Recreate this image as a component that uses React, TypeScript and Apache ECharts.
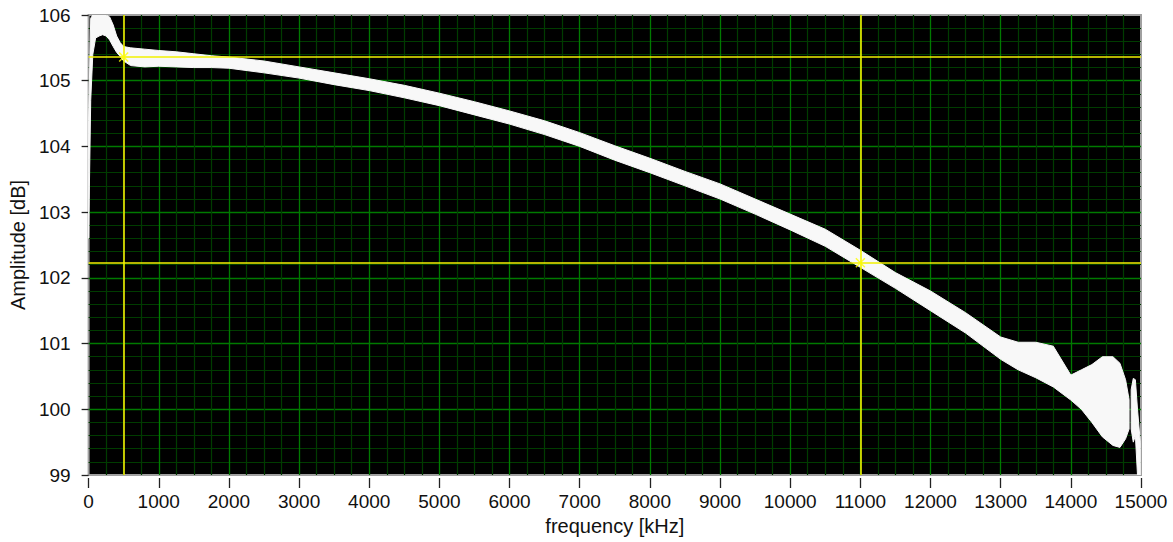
import React, { useEffect, useRef } from "react";
import * as echarts from "echarts";

// Tick values
const xTicks = [0, 1000, 2000, 3000, 4000, 5000, 6000, 7000, 8000, 9000, 10000, 11000, 12000, 13000, 14000, 15000];
const yTicks = [99, 100, 101, 102, 103, 104, 105, 106];

// Main noisy band (envelope of the measured spectrum), frequency in kHz
const bandFreq = [0, 30, 60, 100, 150, 200, 250, 300, 350, 400, 450, 500, 600, 800, 1000, 1250, 1500, 1750, 2000, 2500, 3000, 3500, 4000, 4500, 5000, 5500, 6000, 6500, 7000, 7500, 8000, 8500, 9000, 9500, 10000, 10500, 11000, 11500, 12000, 12500, 13000, 13250, 13500, 13750, 14000, 14150, 14300, 14450, 14600, 14700, 14780, 14830];
const bandLower = [102.6, 104.7, 105.4, 105.65, 105.68, 105.7, 105.68, 105.62, 105.52, 105.43, 105.37, 105.3, 105.23, 105.21, 105.22, 105.21, 105.2, 105.2, 105.19, 105.12, 105.04, 104.94, 104.85, 104.74, 104.62, 104.48, 104.34, 104.18, 104.0, 103.79, 103.6, 103.4, 103.2, 102.97, 102.73, 102.48, 102.16, 101.84, 101.5, 101.16, 100.76, 100.6, 100.48, 100.34, 100.14, 100.0, 99.8, 99.58, 99.45, 99.42, 99.55, 99.7];
const bandUpper = [104.4, 105.95, 106.0, 106.0, 106.0, 106.0, 106.0, 105.97, 105.85, 105.68, 105.58, 105.52, 105.5, 105.48, 105.46, 105.44, 105.41, 105.38, 105.36, 105.3, 105.21, 105.12, 105.03, 104.93, 104.81, 104.68, 104.54, 104.39, 104.21, 104.01, 103.82, 103.62, 103.43, 103.2, 102.97, 102.74, 102.42, 102.08, 101.8, 101.47, 101.1, 101.02, 101.02, 100.96, 100.52, 100.6, 100.68, 100.8, 100.8, 100.7, 100.45, 100.15];

// Last spikes near the end of the range
const tailFreq = [14860, 14890, 14920, 14950, 14990];
const tailLower = [99.7, 99.5, 99.6, 99.0, 99.0];
const tailUpper = [100.3, 100.47, 100.45, 100.0, 99.5];

// Cursors
const cursorX = [500, 11000];
const cursorY = [105.36, 102.23];

const FONT = "'Liberation Sans', Arial, sans-serif";

export default function App() {
  const ref = useRef<HTMLDivElement>(null);

  useEffect(() => {
    if (!ref.current) return;
    const chart = echarts.init(ref.current, undefined, { renderer: "svg" });

    const bandPoints = (api: any, fs: number[], lo: number[], hi: number[]) => {
      const pts: number[][] = [];
      for (let i = 0; i < fs.length; i++) pts.push(api.coord([fs[i], hi[i]]));
      for (let i = fs.length - 1; i >= 0; i--) pts.push(api.coord([fs[i], lo[i]]));
      return pts;
    };

    const option: any = {
      animation: false,
      backgroundColor: "#ffffff",
      grid: {
        left: 88,
        right: 32,
        top: 15,
        bottom: 67,
        show: true,
        backgroundColor: "#000000",
        borderColor: "#a0a0a0",
        borderWidth: 2,
      },
      xAxis: {
        type: "value",
        min: 0,
        max: 15000,
        interval: 1000,
        offset: 3,
        name: "frequency [kHz]",
        nameLocation: "middle",
        nameGap: 38,
        nameTextStyle: { fontSize: 20, fontFamily: FONT, color: "#111" },
        axisLine: { show: false },
        axisTick: { show: true, length: 10, lineStyle: { color: "#222", width: 1.3 } },
        axisLabel: {
          margin: 14,
          fontSize: 19,
          fontFamily: FONT,
          color: "#111",
          formatter: (v: number) => (xTicks.includes(v) ? String(v) : ""),
        },
        splitLine: { show: true, showMinLine: false, showMaxLine: false, lineStyle: { color: "#007a00", width: 1.3 } },
        minorTick: { show: true, splitNumber: 4, length: 0, lineStyle: { width: 0 } },
        minorSplitLine: { show: true, lineStyle: { color: "#003c00", width: 1.2 } },
      },
      yAxis: {
        type: "value",
        min: 99,
        max: 106,
        interval: 1,
        offset: 6,
        name: "Amplitude [dB]",
        nameLocation: "middle",
        nameGap: 52,
        nameTextStyle: { fontSize: 20, fontFamily: FONT, color: "#111" },
        axisLine: { show: false },
        axisTick: { show: true, length: 7, lineStyle: { color: "#222", width: 1.3 } },
        axisLabel: {
          margin: 12,
          fontSize: 19,
          fontFamily: FONT,
          color: "#111",
          formatter: (v: number) => (yTicks.includes(v) ? String(v) : ""),
        },
        splitLine: { show: true, showMinLine: false, showMaxLine: false, lineStyle: { color: "#007a00", width: 1.3 } },
        minorTick: { show: true, splitNumber: 5, length: 0, lineStyle: { width: 0 } },
        minorSplitLine: { show: true, lineStyle: { color: "#003c00", width: 1.2 } },
      },
      series: [
        {
          type: "custom",
          silent: true,
          clip: true,
          data: [[0, 100]],
          renderItem: (_params: any, api: any) => ({
            type: "group",
            children: [
              {
                type: "polygon",
                shape: { points: bandPoints(api, bandFreq, bandLower, bandUpper) },
                style: { fill: "#f8f8f8", stroke: "#f8f8f8", lineWidth: 1 },
              },
              {
                type: "polygon",
                shape: { points: bandPoints(api, tailFreq, tailLower, tailUpper) },
                style: { fill: "#f8f8f8", stroke: "#f8f8f8", lineWidth: 1 },
              },
            ],
          }),
          z: 2,
        },
        {
          type: "scatter",
          silent: true,
          z: 5,
          symbol: "path://M0,0L10,10M10,0L0,10",
          symbolSize: 9,
          itemStyle: { color: "none", borderColor: "#ffff00", borderWidth: 1.5 },
          data: cursorX.map((x, i) => [x, cursorY[i]]),
          markLine: {
            silent: true,
            symbol: "none",
            label: { show: false },
            lineStyle: { color: "#f2f200", width: 1.6, type: "solid" },
            data: [
              ...cursorX.map((x) => ({ xAxis: x })),
              ...cursorY.map((y) => ({ yAxis: y })),
            ],
          },
        },
      ],
    };

    chart.setOption(option);
    return () => chart.dispose();
  }, []);

  return (
    <div
      ref={ref}
      style={{ position: "fixed", left: 0, top: 0, width: 1173, height: 542, background: "#fff" }}
    />
  );
}
